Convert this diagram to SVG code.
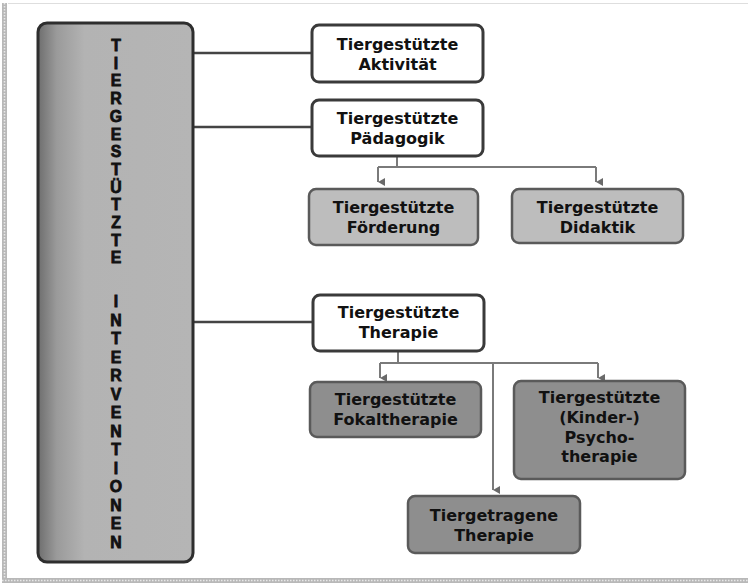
<svg xmlns="http://www.w3.org/2000/svg" width="748" height="585" viewBox="0 0 748 585">
<defs>
<style>
.t{font-family:"DejaVu Sans","Liberation Sans",sans-serif;font-weight:bold;font-size:16px;fill:#111;text-anchor:middle}
.v{font-family:"Liberation Sans",Arial,sans-serif;font-weight:bold;font-size:15.8px;fill:#111;stroke:#111;stroke-width:0.8;text-anchor:middle}
.bw{fill:#fff;stroke:#3a3a3a;stroke-width:3}
.bl{fill:#bdbdbd;stroke:#5a5a5a;stroke-width:2.5}
.bd{fill:#8e8e8e;stroke:#5a5a5a;stroke-width:2.5}
.c1{fill:none;stroke:#444;stroke-width:2.5}
.c2{fill:none;stroke:#7a7a7a;stroke-width:2}
</style>
<linearGradient id="g" x1="0" y1="0" x2="1" y2="0">
<stop offset="0" stop-color="#6e6e6e"/>
<stop offset="0.12" stop-color="#9a9a9a"/>
<stop offset="0.3" stop-color="#b3b3b3"/>
<stop offset="1" stop-color="#b5b5b5"/>
</linearGradient>
<marker id="a" viewBox="0 0 8 7" refX="4" refY="7" markerWidth="8" markerHeight="7" markerUnits="userSpaceOnUse" orient="auto-start-reverse">
<path d="M0,0 L8,0 L4,7 Z" fill="#6a6a6a"/>
</marker>
</defs>
<rect x="0" y="0" width="748" height="585" fill="#fff"/>
<g id="frame">
<line x1="8" y1="3.5" x2="748" y2="3.5" stroke="#dedede" stroke-width="1"/>
<rect x="2" y="3" width="5" height="580" fill="#b8b8b8"/>
<line x1="4.5" y1="3" x2="4.5" y2="583" stroke="#e8e8e8" stroke-width="1.5" stroke-dasharray="1.5 1.5"/>
<rect x="2" y="578" width="746" height="5" fill="#b8b8b8"/>
<line x1="2" y1="580.5" x2="748" y2="580.5" stroke="#e8e8e8" stroke-width="1.5" stroke-dasharray="1.5 1.5"/>
</g>
<g id="connectors">
<line class="c1" x1="193" y1="53" x2="312" y2="53"/>
<line class="c1" x1="193" y1="127" x2="312" y2="127"/>
<line class="c1" x1="193" y1="322" x2="313" y2="322"/>
<path class="c2" d="M397,156 V167 M378,167 H596"/>
<path class="c2" d="M378,167 V182" marker-end="url(#a)"/>
<path class="c2" d="M596,167 V182" marker-end="url(#a)"/>
<path class="c2" d="M398,351 V363 M380,363 H598"/>
<path class="c2" d="M380,363 V378" marker-end="url(#a)"/>
<path class="c2" d="M598,363 V378" marker-end="url(#a)"/>
<path class="c2" d="M493,363 V490" marker-end="url(#a)"/>
</g>
<g id="root">
<rect x="38" y="23" width="155" height="539" rx="9" fill="url(#g)" stroke="#2e2e2e" stroke-width="3"/>
<text class="v" x="116" y="51"><tspan x="116">T</tspan><tspan x="116" dy="17.7">I</tspan><tspan x="116" dy="17.7">E</tspan><tspan x="116" dy="17.7">R</tspan><tspan x="116" dy="17.7">G</tspan><tspan x="116" dy="17.7">E</tspan><tspan x="116" dy="17.7">S</tspan><tspan x="116" dy="17.7">T</tspan><tspan x="116" dy="17.7">Ü</tspan><tspan x="116" dy="17.7">T</tspan><tspan x="116" dy="17.7">Z</tspan><tspan x="116" dy="17.7">T</tspan><tspan x="116" dy="17.7">E</tspan></text>
<text class="v" x="116" y="307"><tspan x="116">I</tspan><tspan x="116" dy="18.5">N</tspan><tspan x="116" dy="18.5">T</tspan><tspan x="116" dy="18.5">E</tspan><tspan x="116" dy="18.5">R</tspan><tspan x="116" dy="18.5">V</tspan><tspan x="116" dy="18.5">E</tspan><tspan x="116" dy="18.5">N</tspan><tspan x="116" dy="18.5">T</tspan><tspan x="116" dy="18.5">I</tspan><tspan x="116" dy="18.5">O</tspan><tspan x="116" dy="18.5">N</tspan><tspan x="116" dy="18.5">E</tspan><tspan x="116" dy="18.5">N</tspan></text>
</g>
<g id="aktivitaet">
<rect class="bw" x="312" y="25" width="171" height="57" rx="7"/>
<text class="t" x="397.5" y="50">Tiergestützte</text>
<text class="t" x="397.5" y="70">Aktivität</text>
</g>
<g id="paedagogik">
<rect class="bw" x="312" y="100" width="171" height="56" rx="7"/>
<text class="t" x="397.5" y="124">Tiergestützte</text>
<text class="t" x="397.5" y="144">Pädagogik</text>
</g>
<g id="foerderung">
<rect class="bl" x="309" y="189" width="169" height="56" rx="7"/>
<text class="t" x="393.5" y="213">Tiergestützte</text>
<text class="t" x="393.5" y="233">Förderung</text>
</g>
<g id="didaktik">
<rect class="bl" x="512" y="189" width="171" height="54" rx="7"/>
<text class="t" x="597.5" y="213">Tiergestützte</text>
<text class="t" x="597.5" y="233">Didaktik</text>
</g>
<g id="therapie">
<rect class="bw" x="313" y="295" width="171" height="56" rx="7"/>
<text class="t" x="398.5" y="318">Tiergestützte</text>
<text class="t" x="398.5" y="338">Therapie</text>
</g>
<g id="fokaltherapie">
<rect class="bd" x="310" y="382" width="171" height="55" rx="7"/>
<text class="t" x="395.5" y="405">Tiergestützte</text>
<text class="t" x="395.5" y="425">Fokaltherapie</text>
</g>
<g id="psychotherapie">
<rect class="bd" x="514" y="381" width="171" height="98" rx="7"/>
<text class="t" x="599.5" y="403">Tiergestützte</text>
<text class="t" x="599.5" y="423">(Kinder-)</text>
<text class="t" x="599.5" y="443">Psycho-</text>
<text class="t" x="599.5" y="462">therapie</text>
</g>
<g id="tiergetragene">
<rect class="bd" x="408" y="496" width="172" height="57" rx="7"/>
<text class="t" x="494" y="521">Tiergetragene</text>
<text class="t" x="494" y="541">Therapie</text>
</g>
</svg>
